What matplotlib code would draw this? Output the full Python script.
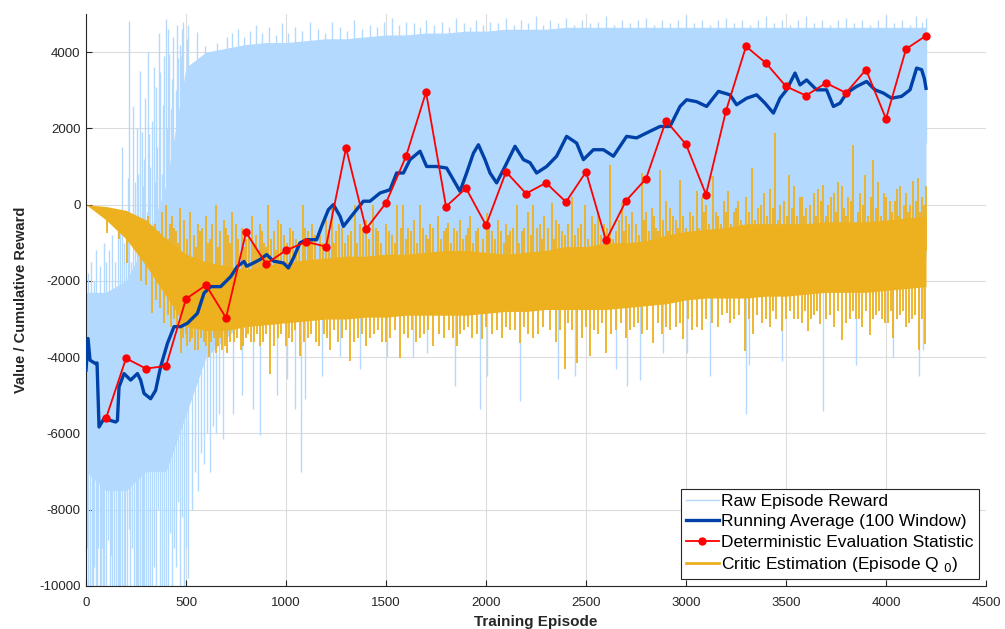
import numpy as np
import matplotlib
matplotlib.use('Agg')
import matplotlib.pyplot as plt
from matplotlib.lines import Line2D

plt.rcParams['font.family'] = ['Liberation Sans', 'DejaVu Sans']
plt.rcParams['axes.unicode_minus'] = False

# ---------------- data ----------------
band_ep = list(range(0, 4201, 100))

# dense part of the raw episode reward band
raw_hi = [-2300, -2300, -2000, -1000, 500, 3600, 4000, 4100, 4200, 4250,
          4250, 4300, 4350, 4350, 4400, 4450, 4450, 4500, 4500, 4550,
          4550, 4600, 4600, 4600, 4650, 4650, 4650, 4650, 4650, 4650,
          4650, 4650, 4650, 4650, 4650, 4650, 4650, 4650, 4650, 4650,
          4650, 4650, 4650]
raw_lo = [-7000, -7500, -7500, -7000, -7000, -5500, -4000, -3500, -3000, -2800,
          -2500, -2200, -2100, -2000, -2000, -2000, -2000, -2000, -2000, -2000,
          -2000, -1900, -1900, -1900, -1900, -1800, -1800, -1800, -1700, -1700,
          -1600, -1600, -1600, -1500, -1500, -1500, -1500, -1500, -1500, -1500,
          -1500, -1400, -1400]

# individual raw reward excursions (episode, value)
raw_spikes = [
    # early upward
    (8, -1800), (25, -1500), (40, -2000), (48, -1180), (70, -1600), (88, -1000), (98, -1500),
    (115, -1200), (130, -800), (145, -1500), (160, -300), (170, -400), (178, 1520), (190, -1000),
    (200, -500), (208, 700), (217, 4825), (225, -1500), (237, 2590), (245, 600), (255, 2000),
    (260, 800), (265, -500), (272, 3500), (278, 1910), (283, 500), (290, 1200), (296, 2800),
    (305, -200), (312, 4000), (317, 1860), (322, 1000), (330, 2200), (338, 3600), (345, 600),
    (350, 3080), (356, 1500), (363, 4500), (370, 3470), (378, 800), (385, 2600), (392, 3900),
    (400, 4870), (406, 2000), (412, 4600), (417, 3950), (425, 2500), (431, 3300), (437, 4390),
    (443, 1500), (450, 3000), (455, 4700), (462, 3850), (468, 2500), (470, 4190), (476, 3900),
    (480, 4600), (486, 4800), (490, 3200), (496, 2000), (503, 4340), (508, 4700), (515, 3000),
    (553, 4530), (595, 4150), (653, 4240), (703, 4400),
    # later upward (top edge)
    (730, 4500), (760, 4600), (790, 4400), (820, 4550), (850, 4700), (880, 4500), (915, 4650),
    (950, 4450), (980, 4750), (1010, 4500), (1045, 4650), (1080, 4550), (1120, 4800), (1160, 4600),
    (1195, 4500), (1230, 4800), (1270, 4650), (1305, 4550), (1340, 4850), (1380, 4600),
    (1420, 4700), (1455, 4650), (1490, 4800), (1530, 4900), (1565, 4700), (1600, 4800),
    (1640, 4750), (1670, 4650), (1700, 4850), (1740, 4700), (1780, 4800), (1815, 4650),
    (1850, 4900), (1890, 4750), (1920, 4650), (1950, 4850), (1985, 4700), (2020, 4800),
    (2060, 4750), (2100, 4900), (2140, 4700), (2175, 4850), (2210, 4750), (2250, 4950),
    (2285, 4700), (2320, 4850), (2360, 4750), (2400, 4900), (2440, 4700), (2480, 4850),
    (2520, 4750), (2560, 4800), (2600, 4950), (2640, 4700), (2680, 4850), (2720, 4750),
    (2760, 4850), (2800, 4900), (2840, 4700), (2880, 4850), (2920, 4750), (2960, 4850),
    (3000, 4950), (3040, 4750), (3080, 4850), (3120, 4700), (3160, 4850), (3200, 4900),
    (3240, 4750), (3280, 4850), (3320, 4700), (3360, 4850), (3400, 4950), (3440, 4750),
    (3480, 4850), (3520, 4700), (3560, 4850), (3600, 4950), (3640, 4750), (3680, 4850),
    (3720, 4700), (3760, 4850), (3800, 4900), (3840, 4750), (3880, 4850), (3920, 4700),
    (3960, 4850), (4000, 4950), (4040, 4750), (4080, 4850), (4120, 4700), (4150, 4950),
    (4180, 4800), (4198, 4900),
    # early downward
    (5, -9000), (12, -10500), (20, -10500), (28, -10500), (35, -10500), (42, -9500),
    (50, -10500), (55, -10500), (60, -9000), (68, -10500), (75, -10500), (80, -9000),
    (85, -10500), (92, -10500), (100, -10500), (110, -8800), (118, -10500), (125, -9200),
    (132, -10500), (140, -10500), (150, -10500), (158, -10500), (165, -10500), (172, -10500),
    (180, -10500), (188, -10500), (195, -10500), (205, -10500), (215, -8500), (222, -10500),
    (230, -9000), (240, -10500), (248, -10500), (255, -10500), (262, -10500), (270, -10500),
    (278, -10500), (285, -10500), (292, -10500), (300, -10500), (310, -10500), (320, -10500),
    (330, -10500), (340, -9500), (350, -10500), (360, -8000), (370, -10500), (380, -10500),
    (390, -10500), (400, -10500), (410, -10500), (420, -8600), (430, -10500), (440, -9000),
    (450, -9500), (460, -7800), (470, -10500), (480, -8200), (490, -10500), (500, -9000),
    (510, -9800), (530, -8000), (545, -7000), (560, -7500), (575, -6500), (590, -6800),
    (605, -6000), (620, -7000), (635, -5800), (650, -6000), (665, -5500),
    # later downward
    (687, -6150), (737, -5500), (780, -5000), (837, -5370), (870, -6050), (953, -5000),
    (1003, -4580), (1045, -5370), (1075, -7000), (1095, -5100), (1180, -4500), (1270, -3970),
    (1370, -4300), (1503, -4000), (1637, -4000), (1703, -3900), (1845, -4760), (1970, -5370),
    (2003, -4500), (2170, -5150), (2362, -4580), (2445, -4500), (2650, -4300), (2703, -4760),
    (2770, -4600), (2887, -3900), (3003, -3900), (3120, -4500), (3300, -5500), (3317, -4200),
    (3480, -4100), (3685, -5400), (3850, -4200), (4037, -4000), (4165, -4500), (4185, -3800),
]

# critic estimation (episode Q0) band
crit_hi = [0, -50, -150, -400, -900, -1300, -1500, -1600, -1700, -1600,
           -1500, -1450, -1400, -1350, -1350, -1300, -1300, -1250, -1200, -1200,
           -1250, -1300, -1250, -1200, -1100, -1100, -1000, -1000, -950, -800,
           -700, -650, -600, -500, -500, -500, -500, -450, -450, -450,
           -400, -350, -300]
crit_lo = [0, -400, -900, -1600, -2400, -3200, -3300, -3300, -3200, -3150,
           -3100, -3050, -3000, -3000, -2950, -2950, -2900, -2900, -2900, -2900,
           -2850, -2800, -2800, -2750, -2750, -2750, -2750, -2700, -2650, -2600,
           -2500, -2450, -2450, -2450, -2400, -2400, -2350, -2300, -2300, -2300,
           -2250, -2200, -2150]

# tall critic excursions (episode, value)
crit_spikes = [
    (380, -200), (400, 0), (420, -500), (430, -300), (450, -700), (470, -100), (490, -400),
    (520, -200), (540, -800), (560, -500), (580, -600), (600, -300), (620, -900), (650, 0),
    (670, -700), (690, -400), (710, -800), (730, -200), (750, -500), (780, -600), (800, -900),
    (830, -300), (850, -800), (870, -500), (890, -1000), (912, 0), (940, -700), (960, -400),
    (990, -800), (1020, -600), (1050, -900), (1087, 0), (1110, -700), (1130, -500),
    (1170, -800), (1200, -400), (1228, -100), (1250, -700), (1280, -600), (1310, -800),
    (1345, 0), (1370, -500), (1400, -400), (1437, 0), (1460, -700), (1500, -500), (1530, -800),
    (1553, 0), (1587, 0), (1610, -600), (1640, -400), (1670, 0), (1700, -800), (1720, -500),
    (1760, -300), (1790, -700), (1812, -480), (1840, -600), (1870, -400), (1900, -800),
    (1920, -300), (1960, -600), (2003, -220), (2030, -700), (2060, -400), (2100, -500),
    (2120, -700), (2153, 0), (2190, -600), (2210, -200), (2237, 0), (2270, -500), (2290, -300),
    (2328, 50), (2350, -400), (2380, -700), (2428, 200), (2460, -600), (2495, 0), (2530, -300),
    (2560, -200), (2590, -500), (2620, 1050), (2650, -700), (2678, 50), (2700, -300),
    (2730, -200), (2750, -500), (2778, 830), (2800, -200), (2830, -100), (2850, -600),
    (2870, 920), (2900, 100), (2920, -100), (2950, -400), (2970, 650), (3020, -200),
    (3053, 350), (3080, 200), (3100, 0), (3137, 750), (3160, -300), (3190, 100), (3212, 350),
    (3240, -200), (3260, 100), (3300, 200), (3328, 960), (3360, -100), (3390, 300),
    (3420, 400), (3445, 1880), (3470, 0), (3517, 790), (3540, 500), (3580, 200), (3600, -100),
    (3640, 300), (3660, 400), (3687, 520), (3710, 0), (3740, 300), (3760, 600), (3778, 480),
    (3810, 200), (3837, 1570), (3870, 300), (3895, 790), (3937, 1180), (3960, 600),
    (3990, 300), (4020, 100), (4053, 400), (4070, 500), (4100, 300), (4120, 0), (4137, 610),
    (4160, 700), (4180, 200), (4200, 480),
    (107, -750), (165, -900), (207, -1530), (273, -2000), (332, -2850), (390, -3100),
    (440, -3000), (473, -3900), (500, -3400), (507, -3700), (530, -3500), (560, -3800),
    (590, -3600), (615, -4000), (640, -3500), (660, -3700), (680, -3800), (707, -3900),
    (740, -3600), (773, -3800), (800, -3500), (840, -3600), (870, -3700), (920, -4450),
    (960, -3500), (1000, -3700), (1030, -3600), (1070, -3970), (1110, -3500), (1150, -3600),
    (1190, -3400), (1220, -3800), (1260, -3600), (1320, -4100), (1360, -3500), (1400, -3700),
    (1440, -3400), (1480, -3600), (1520, -3500), (1570, -4010), (1610, -3500), (1650, -3600),
    (1690, -3400), (1737, -3710), (1790, -3500), (1853, -3710), (1890, -3300), (1930, -3500),
    (1978, -3530), (2030, -3400), (2080, -3500), (2120, -3300), (2170, -3620), (2210, -3400),
    (2260, -3400), (2320, -3300), (2350, -3600), (2395, -4320), (2430, -3300), (2453, -4150),
    (2480, -3500), (2520, -3970), (2560, -3400), (2600, -3880), (2650, -3300), (2700, -3500),
    (2740, -3200), (2780, -3400), (2837, -3620), (2880, -3400), (2920, -3300), (2950, -3200),
    (2987, -3530), (3030, -3300), (3080, -3300), (3130, -3100), (3160, -3200), (3203, -2840),
    (3240, -3000), (3295, -3840), (3337, -3400), (3380, -3100), (3420, -3200), (3450, -3000),
    (3478, -3320), (3540, -3000), (3580, -3100), (3612, -3320), (3640, -2900), (3670, -3140),
    (3700, -3000), (3740, -3200), (3778, -3540), (3820, -3000), (3850, -3000), (3880, -3200),
    (3920, -3410), (3950, -2900), (3980, -3000), (4010, -3100), (4037, -3500), (4070, -2900),
    (4100, -3200), (4130, -3000), (4167, -3800), (4195, -3660),
]

# shorter critic excursions filling the ragged fringe (episode, value)
crit_fringe = [
    (310, -300), (345, -500), (365, -700), (410, -900), (440, -600), (460, -1000), (505, -900),
    (550, -1100), (570, -700), (610, -1000), (630, -500), (660, -1100), (700, -600), (720, -1000),
    (760, -900), (790, -1100), (815, -700), (840, -1000), (860, -1200), (880, -700), (900, -1100),
    (925, -900), (950, -1200), (975, -500), (1005, -1000), (1035, -700), (1065, -1100),
    (1095, -600), (1120, -1000), (1145, -800), (1185, -1000), (1215, -700), (1240, -1000),
    (1265, -500), (1295, -1000), (1325, -700), (1355, -1000), (1385, -600), (1415, -900),
    (1450, -600), (1475, -1000), (1515, -700), (1545, -1000), (1575, -600), (1600, -900),
    (1625, -700), (1655, -1000), (1685, -600), (1710, -900), (1735, -600), (1775, -900),
    (1800, -600), (1825, -1000), (1855, -700), (1885, -900), (1910, -600), (1935, -1000),
    (1950, -700), (1985, -900), (2015, -600), (2045, -900), (2075, -700), (2090, -1000),
    (2110, -800), (2135, -600), (2165, -1000), (2180, -700), (2225, -800), (2255, -600),
    (2280, -900), (2310, -600), (2340, -900), (2365, -500), (2395, -800), (2410, -500),
    (2445, -800), (2475, -500), (2510, -900), (2545, -500), (2575, -800), (2605, -600),
    (2635, -900), (2665, -400), (2690, -700), (2715, -500), (2765, -800), (2790, -400),
    (2815, -700), (2840, -300), (2860, -700), (2885, -400), (2910, -700), (2935, -300),
    (2960, -600), (2985, -300), (3000, -600), (3035, -300), (3065, -600), (3090, -200),
    (3115, -500), (3150, -200), (3175, -500), (3200, -200), (3225, -500), (3250, -100),
    (3275, -400), (3315, -200), (3345, -400), (3375, 0), (3405, -300), (3435, -100),
    (3460, -400), (3490, 100), (3505, -300), (3530, -100), (3555, -300), (3570, 200),
    (3590, -300), (3620, 0), (3650, -300), (3675, 100), (3700, -300), (3725, 200), (3750, -200),
    (3790, -100), (3800, -300), (3825, 100), (3860, -200), (3885, 0), (3910, -300), (3925, 200),
    (3950, -100), (3975, -300), (4000, 200), (4030, -200), (4045, 100), (4060, -300), (4090, 0),
    (4110, -200), (4150, 100), (4170, -200), (4190, 0),
    (300, -2100), (350, -2500), (370, -2700), (410, -2900), (425, -3200), (455, -3300),
    (485, -3500), (520, -3600), (545, -3800), (575, -3500), (600, -3700), (625, -3600),
    (650, -3900), (670, -3500), (695, -3700), (720, -3600), (755, -3500), (785, -3700),
    (810, -3400), (825, -3600), (855, -3400), (885, -3600), (900, -3400), (940, -3700),
    (975, -3400), (1015, -3500), (1045, -3300), (1090, -3600), (1125, -3400), (1165, -3700),
    (1205, -3500), (1240, -3300), (1280, -3500), (1300, -3300), (1340, -3600), (1380, -3400),
    (1420, -3500), (1460, -3300), (1500, -3600), (1545, -3300), (1590, -3400), (1630, -3300),
    (1670, -3500), (1710, -3300), (1765, -3400), (1815, -3300), (1835, -3500), (1870, -3400),
    (1910, -3200), (1955, -3400), (2000, -3200), (2055, -3300), (2100, -3200), (2145, -3300),
    (2190, -3200), (2235, -3500), (2285, -3200), (2370, -3300), (2410, -3100), (2500, -3200),
    (2540, -3300), (2580, -3100), (2625, -3400), (2675, -3100), (2720, -3300), (2760, -3100),
    (2805, -3300), (2860, -3100), (2900, -3200), (2970, -3100), (3010, -3000), (3055, -3200),
    (3100, -3000), (3180, -2900), (3220, -3100), (3265, -2900), (3315, -3000), (3355, -2900),
    (3400, -3000), (3435, -2800), (3500, -3000), (3520, -2800), (3560, -3000), (3595, -2800),
    (3625, -3000), (3655, -2800), (3720, -2900), (3760, -2800), (3800, -3100), (3835, -2800),
    (3865, -3000), (3900, -2800), (3935, -3000), (3965, -2800), (3995, -3100), (4025, -2800),
    (4055, -3000), (4085, -2800), (4115, -3100), (4145, -2900), (4180, -3000),
]

# running average (100 window)
avg_ep = [0, 10, 20, 48, 55, 65, 90, 148, 157, 165, 190, 223, 257, 273, 290, 323, 348,
          373, 407, 440, 473, 507, 557, 590, 623, 673, 723, 757, 790,
          803, 837, 870, 903, 937, 987, 1012, 1037, 1070, 1103, 1153, 1178, 1212, 1237,
          1270, 1287, 1320, 1353, 1387, 1420, 1470, 1520, 1553, 1587, 1620, 1670, 1703,
          1753, 1803, 1837, 1870, 1903, 1937, 1962, 1995,
          2020, 2053, 2095, 2145, 2187, 2220, 2253, 2303, 2353, 2403, 2453, 2487, 2537,
          2587, 2637, 2703, 2753, 2803, 2870, 2920, 2970, 3003, 3053, 3103, 3162,
          3220, 3253, 3303, 3353, 3395, 3437, 3470, 3503, 3545, 3570, 3603, 3653, 3703,
          3737, 3770, 3803, 3853, 3903, 3945, 3987, 4028, 4078, 4120, 4153, 4178, 4192, 4200]
avg_val = [-4340, -3510, -4080, -4170, -4150, -5830, -5610, -5700, -5660, -4780, -4430, -4600,
           -4430, -4600, -4950, -5090, -4870, -4250, -3640, -3200, -3200, -3110, -2850, -2320,
           -2150, -2150, -1890, -1620, -1490,
           -1615, -1530, -1440, -1310, -1480, -1530, -1660, -1400, -1000, -920, -920, -570,
           -130, 0, -305, -570, -350, -130, 90, 90, 305, 390, 830, 830, 1180, 1400, 1000,
           1000, 960, 650, 350, 830, 1350, 1570, 1180,
           830, 570, 1000, 1530, 1180, 1100, 830, 1000, 1270, 1790, 1615, 1180, 1440,
           1440, 1270, 1790, 1750, 1880, 2050, 2050, 2575, 2750, 2700, 2575, 2970,
           2880, 2620, 2790, 2880, 2660, 2400, 2790, 3010, 3450, 3140, 3270, 3010, 3010,
           2575, 2660, 2925, 3100, 3230, 3010, 2925, 2790, 2840, 3010, 3580, 3540, 3300, 3050]

# deterministic evaluation statistic (every 100 episodes)
eval_ep = list(range(100, 4201, 100))
eval_val = [-5600, -4030, -4300, -4230, -2470, -2110, -2970, -725, -1550, -1200,
            -975, -1100, 1485, -640, 45, 1265, 2950, -50, 430, -540,
            860, 290, 570, 70, 860, -940, 100, 680, 2200, 1580,
            265, 2460, 4150, 3710, 3100, 2860, 3190, 2930, 3540, 2250,
            4080, 4430]

x_ticks = list(range(0, 4501, 500))
y_ticks = list(range(-10000, 4001, 2000))

# ---------------- styling ----------------
c_raw = '#B3D9FF'
c_avg = '#0041A8'
c_eval = '#FF0000'
c_crit = '#EDB120'

fig = plt.figure(figsize=(10.05, 6.29), dpi=100)
ax = fig.add_axes([0.0856, 0.0684, 0.8955, 0.9094])

bx = np.array(band_ep)
# raw reward
ax.fill_between(bx, raw_lo, raw_hi, color=c_raw, lw=0, zorder=1)
raw_mid = (np.array(raw_hi) + np.array(raw_lo)) / 2
rs_ep = np.array([p[0] for p in raw_spikes])
rs_val = np.array([p[1] for p in raw_spikes])
ax.vlines(rs_ep, np.interp(rs_ep, bx, raw_mid), rs_val, color=c_raw, lw=1.0, zorder=1)

# critic estimation
ax.fill_between(bx, crit_lo, crit_hi, color=c_crit, lw=0, zorder=2)
crit_mid = (np.array(crit_hi) + np.array(crit_lo)) / 2
all_crit = crit_spikes + crit_fringe
cs_ep = np.array([p[0] for p in all_crit])
cs_val = np.array([p[1] for p in all_crit])
ax.vlines(cs_ep, np.interp(cs_ep, bx, crit_mid), cs_val, color=c_crit, lw=1.3, zorder=2)

# running average
ax.plot(avg_ep, avg_val, color=c_avg, lw=2.4, zorder=3)
# evaluation
ax.plot(eval_ep, eval_val, color=c_eval, lw=1.3, marker='o', ms=5, zorder=4)

ax.set_xlim(0, 4500)
ax.set_ylim(-10000, 5000)
ax.set_xticks(x_ticks)
ax.set_yticks(y_ticks)
ax.grid(True, color='#DCDCDC', lw=0.8)
ax.set_axisbelow(True)
for s in ['top', 'right']:
    ax.spines[s].set_visible(False)
for s in ['left', 'bottom']:
    ax.spines[s].set_color('#262626')
    ax.spines[s].set_linewidth(0.8)
ax.tick_params(direction='in', length=4, width=0.8, colors='#262626', labelsize=9.5)
ax.tick_params(axis='x', pad=8)
ax.tick_params(axis='y', pad=4)

ax.set_xlabel('Training Episode', fontsize=11, fontweight='bold', color='#262626', labelpad=4)
ax.set_ylabel('Value / Cumulative Reward', fontsize=10.5, fontweight='bold', color='#262626', labelpad=8)

handles = [
    Line2D([], [], color=c_raw, lw=1),
    Line2D([], [], color=c_avg, lw=2.4),
    Line2D([], [], color=c_eval, lw=1.3, marker='o', ms=5),
    Line2D([], [], color=c_crit, lw=2),
]
labels = ['Raw Episode Reward', 'Running Average (100 Window)',
          'Deterministic Evaluation Statistic', 'Critic Estimation (Episode Q $_{0}$)']
leg = ax.legend(handles, labels, loc='lower right', fontsize=12.5, frameon=True, fancybox=False,
                edgecolor='#262626', framealpha=1, handlelength=1.9, handletextpad=0.15,
                labelspacing=0.3, borderpad=0.3, borderaxespad=0.4)
leg.get_frame().set_linewidth(0.8)

fig.savefig('out.png', dpi=100)
